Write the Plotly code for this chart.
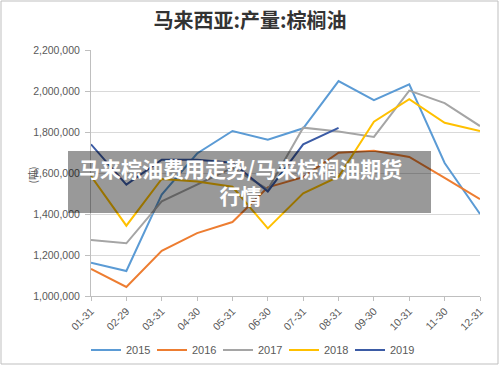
import plotly.graph_objects as go

categories = ["01-31", "02-29", "03-31", "04-30", "05-31", "06-30",
              "07-31", "08-31", "09-30", "10-31", "11-30", "12-31"]

y2015 = [1162000, 1122000, 1495000, 1695000, 1805000, 1762000,
         1818000, 2048000, 1955000, 2033000, 1649000, 1400000]
y2016 = [1132000, 1044000, 1220000, 1307000, 1361000, 1530000,
         1580000, 1699000, 1709000, 1678000, 1576000, 1473000]
y2017 = [1273000, 1257000, 1462000, 1545000, 1625000, 1520000,
         1821000, 1802000, 1776000, 2002000, 1941000, 1829000]
y2018 = [1585000, 1343000, 1571000, 1558000, 1533000, 1330000,
         1501000, 1582000, 1850000, 1960000, 1845000, 1805000]
y2019 = [1740000, 1543000, 1665000, 1665000, 1650000, 1510000,
         1740000, 1820000]

series_names = ["2015", "2016", "2017", "2018", "2019"]
series_values = [y2015, y2016, y2017, y2018, y2019]
colors = ["#5B9BD5", "#ED7D31", "#A5A5A5", "#FFC000", "#3B5BA5"]

W, H = 500, 366
L, R, T, B = 91, 20, 50, 70
pw, ph = W - L - R, H - T - B

def px(x):
    return (x - L) / pw

def py(y):
    return (H - B - y) / ph

fig = go.Figure()
for name, vals, c in zip(series_names, series_values, colors):
    fig.add_trace(go.Scatter(
        x=categories[:len(vals)], y=vals, name=name, mode="lines",
        line=dict(color=c, width=2)))

font_txt = "Liberation Sans, Arial, Noto Sans CJK SC, sans-serif"

fig.update_layout(
    width=W, height=H,
    margin=dict(l=L, r=R, t=T, b=B, autoexpand=False),
    paper_bgcolor="white", plot_bgcolor="white",
    title=dict(text="<b>马来西亚:产量:棕榈油</b>", x=0.5, xref="container",
               y=1 - 21 / H, yref="container", xanchor="center", yanchor="middle",
               font=dict(family="Noto Sans CJK SC, sans-serif", size=20, color="#333333")),
    showlegend=True,
    legend=dict(orientation="h", x=px(251), xanchor="center", y=py(350), yanchor="middle",
                font=dict(family=font_txt, size=11, color="#595959"),
                itemwidth=30, entrywidth=21, entrywidthmode="pixels",
                bgcolor="rgba(0,0,0,0)"),
    font=dict(family=font_txt, color="#595959"),
)

fig.update_xaxes(
    type="category", categoryorder="array", categoryarray=categories,
    range=[0, len(categories) - 1], automargin=False,
    showgrid=False, showline=True, linecolor="#BFBFBF", linewidth=1,
    ticks="outside", ticklen=4, tickcolor="#BFBFBF",
    tickangle=-45, tickfont=dict(size=10.5, color="#595959", family=font_txt),
    zeroline=False)

fig.update_yaxes(
    range=[1000000, 2200000], dtick=200000, tickformat=",", automargin=False,
    showgrid=True, gridcolor="#D9D9D9", gridwidth=1,
    showline=True, linecolor="#BFBFBF", linewidth=1,
    ticks="outside", ticklen=5, tickcolor="#BFBFBF", ticklabelstandoff=3,
    tickfont=dict(size=10.5, color="#595959", family=font_txt),
    zeroline=False)

# y-axis unit label
fig.add_annotation(text="(吨)", xref="paper", yref="paper", x=px(22), y=py(175),
                   showarrow=False, textangle=-90,
                   font=dict(family="Noto Sans CJK SC, sans-serif", size=10, color="#595959"))

# outer frame
fig.add_shape(type="rect", xref="paper", yref="paper",
              x0=px(1), x1=px(498), y0=py(364), y1=py(1),
              line=dict(color="#BFBFBF", width=1), fillcolor="rgba(0,0,0,0)", layer="above")

# overlay banner
fig.add_shape(type="rect", xref="paper", yref="paper",
              x0=px(68), x1=px(431), y0=py(213), y1=py(151),
              line=dict(width=0), fillcolor="rgba(0,0,0,0.4)", layer="above")
fig.add_annotation(text="<b>马来棕油费用走势/马来棕榈油期货<br>行情</b>",
                   xref="paper", yref="paper", x=px(240), y=py(181),
                   xanchor="center", yanchor="middle", showarrow=False, align="center",
                   font=dict(family="Noto Sans CJK SC, sans-serif", size=21, color="white"))

fig.write_html("out.html", config={"displayModeBar": False},
               post_script="document.body.style.margin='0';document.body.style.padding='0';")
